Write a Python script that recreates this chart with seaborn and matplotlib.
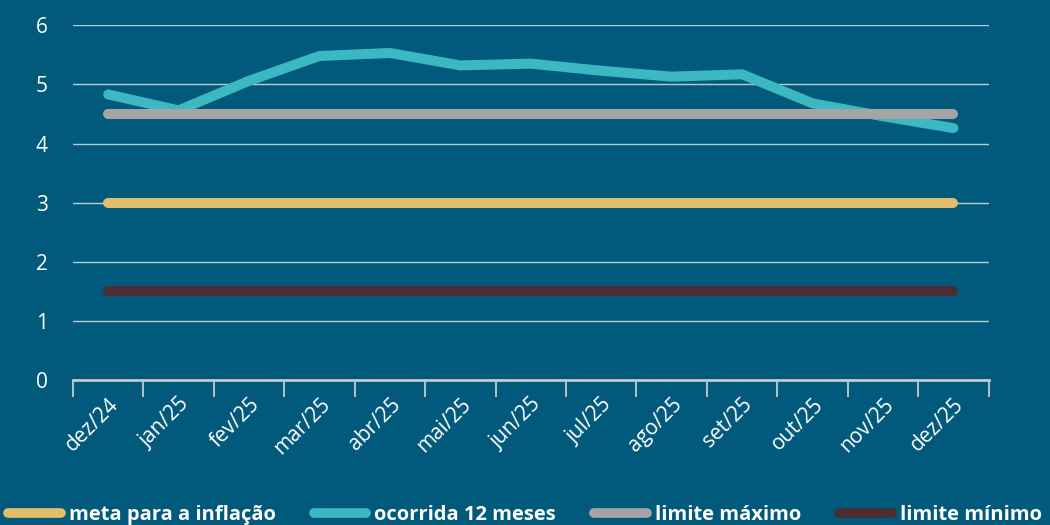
import matplotlib
matplotlib.use("Agg")
import matplotlib.pyplot as plt
import seaborn as sns
import pandas as pd
import numpy as np
from matplotlib.lines import Line2D

months = ["dez/24", "jan/25", "fev/25", "mar/25", "abr/25", "mai/25", "jun/25",
          "jul/25", "ago/25", "set/25", "out/25", "nov/25", "dez/25"]
meta = [3.0] * 13
ocorrida = [4.83, 4.56, 5.06, 5.48, 5.53, 5.32, 5.35, 5.23, 5.13, 5.17, 4.68, 4.46, 4.26]
limite_max = [4.5] * 13
limite_min = [1.5] * 13

series_names = ["meta para a inflação", "ocorrida 12 meses", "limite máximo", "limite mínimo"]
colors = ["#E2BD6B", "#3BB8C1", "#A5A5A5", "#4A2E33"]

df = pd.concat([
    pd.DataFrame({"mes": months, "valor": vals, "serie": name})
    for name, vals in zip(series_names, [meta, ocorrida, limite_max, limite_min])
])
df["pos"] = df["mes"].map({m: i for i, m in enumerate(months)})

bg = "#015A7B"
sns.set_style("white")
plt.rcParams["font.family"] = ["Open Sans", "DejaVu Sans"]

fig = plt.figure(figsize=(10.5, 5.25), dpi=100, facecolor=bg)
ax = fig.add_axes([0.0695, 0.276, 0.872, 0.676])
ax.set_facecolor(bg)

sns.lineplot(data=df, x="pos", y="valor", hue="serie", hue_order=series_names,
             palette=colors, linewidth=7.2, ax=ax, legend=False,
             solid_capstyle="round", solid_joinstyle="miter")

ax.set_xlim(-0.5, 12.5)
ax.set_ylim(0, 6)
ax.set_yticks(range(0, 7))
ax.yaxis.grid(True, color="#B9CCD6", linewidth=1.0)
ax.set_axisbelow(True)
for s in ["top", "right", "left"]:
    ax.spines[s].set_visible(False)
ax.spines["bottom"].set_color("#C8C8C8")
ax.spines["bottom"].set_linewidth(2)

ax.set_xticks(range(13))
ax.set_xticklabels(months, rotation=45, ha="right", rotation_mode="anchor")
ax.set_xticks(np.arange(-0.5, 13, 1), minor=True)
ax.tick_params(axis="x", which="major", bottom=True, length=0, pad=10, labelsize=15,
               labelcolor="white")
ax.tick_params(axis="x", which="minor", bottom=True, length=12, width=1.3, color="#C8C8C8")
ax.tick_params(axis="y", length=0, pad=18, labelsize=15, labelcolor="white")
ax.set_xlabel("")
ax.set_ylabel("")

handles = [Line2D([0], [0], color=c, linewidth=7, solid_capstyle="round") for c in colors]
leg = fig.legend(handles, series_names, loc="lower center", bbox_to_anchor=(0.5, -0.035),
                 ncol=4, frameon=False, handlelength=2.6, handletextpad=0.4,
                 columnspacing=1.9, prop={"weight": "bold", "size": 14.5})
for t in leg.get_texts():
    t.set_color("white")

fig.savefig("out.png", dpi=100, facecolor=bg)
